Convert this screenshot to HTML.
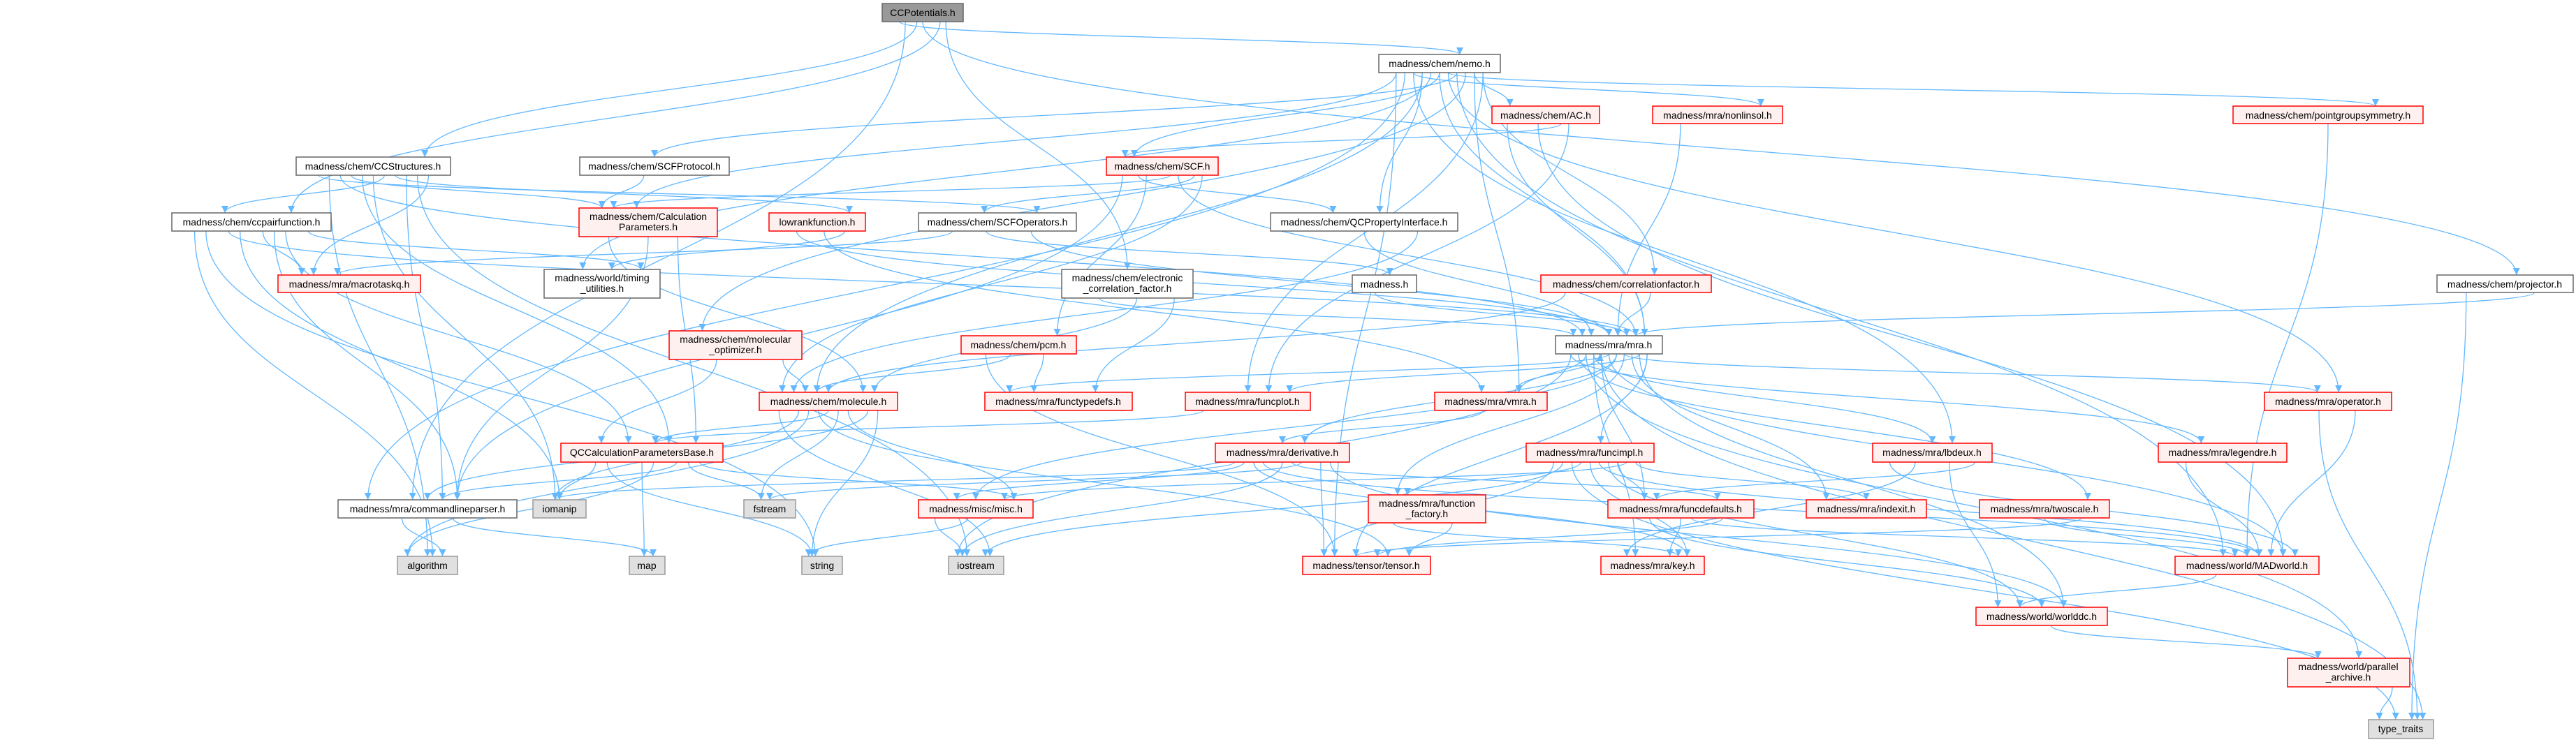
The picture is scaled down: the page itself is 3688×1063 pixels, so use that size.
<!DOCTYPE html>
<html><head><meta charset="utf-8"><style>
html,body{margin:0;padding:0;background:#fff}
svg{display:block}
text{font-family:"Liberation Sans","DejaVu Sans",sans-serif;font-size:14px;fill:#000}
.w{fill:#fff;stroke:#666;stroke-width:1.5}
.r{fill:#fff0f0;stroke:#f00;stroke-width:1.5}
.g{fill:#e0e0e0;stroke:#999;stroke-width:1.5}
.t{fill:#999;stroke:#666;stroke-width:1.5}
.e{fill:none;stroke:#63b8ff;stroke-width:1.3}
</style></head><body>
<svg id="s" width="3688" height="1063" viewBox="0 0 3688 1063" xmlns="http://www.w3.org/2000/svg">
<defs><marker id="a" viewBox="0 0 10 10" refX="10" refY="5" markerWidth="10" markerHeight="10" markerUnits="userSpaceOnUse" orient="auto"><path d="M0,0 L10,5 L0,10 z" fill="#63b8ff"/></marker></defs>
<g id="edges"></g>
<g id="nodes">
<rect class="t" x="1263" y="5" width="116" height="26"/><text x="1321" y="23" text-anchor="middle">CCPotentials.h</text>
<rect class="w" x="1974" y="78" width="174" height="26"/><text x="2061" y="96" text-anchor="middle">madness/chem/nemo.h</text>
<rect class="r" x="2136" y="152" width="154" height="25"/><text x="2213" y="170" text-anchor="middle">madness/chem/AC.h</text>
<rect class="r" x="2366" y="152" width="186" height="25"/><text x="2459" y="170" text-anchor="middle">madness/mra/nonlinsol.h</text>
<rect class="r" x="3197" y="152" width="272" height="25"/><text x="3333" y="170" text-anchor="middle">madness/chem/pointgroupsymmetry.h</text>
<rect class="w" x="424" y="225" width="221" height="26"/><text x="534" y="243" text-anchor="middle">madness/chem/CCStructures.h</text>
<rect class="w" x="830" y="225" width="214" height="26"/><text x="937" y="243" text-anchor="middle">madness/chem/SCFProtocol.h</text>
<rect class="r" x="1584" y="225" width="160" height="26"/><text x="1664" y="243" text-anchor="middle">madness/chem/SCF.h</text>
<rect class="w" x="246" y="305" width="228" height="26"/><text x="360" y="323" text-anchor="middle">madness/chem/ccpairfunction.h</text>
<rect class="r" x="829" y="298" width="198" height="41"/><text x="928" y="315" text-anchor="middle">madness/chem/Calculation</text><text x="928" y="330" text-anchor="middle">Parameters.h</text>
<rect class="r" x="1101" y="305" width="138" height="26"/><text x="1170" y="323" text-anchor="middle">lowrankfunction.h</text>
<rect class="w" x="1315" y="305" width="226" height="26"/><text x="1428" y="323" text-anchor="middle">madness/chem/SCFOperators.h</text>
<rect class="w" x="1819" y="305" width="268" height="26"/><text x="1953" y="323" text-anchor="middle">madness/chem/QCPropertyInterface.h</text>
<rect class="r" x="398" y="394" width="204" height="25"/><text x="500" y="412" text-anchor="middle">madness/mra/macrotaskq.h</text>
<rect class="w" x="779" y="386" width="166" height="41"/><text x="862" y="403" text-anchor="middle">madness/world/timing</text><text x="862" y="418" text-anchor="middle">_utilities.h</text>
<rect class="w" x="1520" y="386" width="188" height="41"/><text x="1614" y="403" text-anchor="middle">madness/chem/electronic</text><text x="1614" y="418" text-anchor="middle">_correlation_factor.h</text>
<rect class="w" x="1936" y="394" width="92" height="25"/><text x="1982" y="412" text-anchor="middle">madness.h</text>
<rect class="r" x="2206" y="394" width="244" height="25"/><text x="2328" y="412" text-anchor="middle">madness/chem/correlationfactor.h</text>
<rect class="w" x="3489" y="394" width="195" height="25"/><text x="3586" y="412" text-anchor="middle">madness/chem/projector.h</text>
<rect class="r" x="958" y="474" width="190" height="41"/><text x="1053" y="491" text-anchor="middle">madness/chem/molecular</text><text x="1053" y="506" text-anchor="middle">_optimizer.h</text>
<rect class="r" x="1376" y="481" width="165" height="26"/><text x="1458" y="499" text-anchor="middle">madness/chem/pcm.h</text>
<rect class="w" x="2227" y="481" width="153" height="26"/><text x="2303" y="499" text-anchor="middle">madness/mra/mra.h</text>
<rect class="r" x="1087" y="562" width="198" height="26"/><text x="1186" y="580" text-anchor="middle">madness/chem/molecule.h</text>
<rect class="r" x="1410" y="562" width="211" height="26"/><text x="1515" y="580" text-anchor="middle">madness/mra/functypedefs.h</text>
<rect class="r" x="1697" y="562" width="179" height="26"/><text x="1786" y="580" text-anchor="middle">madness/mra/funcplot.h</text>
<rect class="r" x="2054" y="562" width="161" height="26"/><text x="2134" y="580" text-anchor="middle">madness/mra/vmra.h</text>
<rect class="r" x="3242" y="562" width="182" height="26"/><text x="3333" y="580" text-anchor="middle">madness/mra/operator.h</text>
<rect class="r" x="803" y="635" width="232" height="27"/><text x="919" y="653" text-anchor="middle">QCCalculationParametersBase.h</text>
<rect class="r" x="1740" y="635" width="192" height="27"/><text x="1836" y="653" text-anchor="middle">madness/mra/derivative.h</text>
<rect class="r" x="2185" y="635" width="183" height="27"/><text x="2276" y="653" text-anchor="middle">madness/mra/funcimpl.h</text>
<rect class="r" x="2681" y="635" width="171" height="27"/><text x="2766" y="653" text-anchor="middle">madness/mra/lbdeux.h</text>
<rect class="r" x="3090" y="635" width="184" height="27"/><text x="3182" y="653" text-anchor="middle">madness/mra/legendre.h</text>
<rect class="w" x="484" y="716" width="256" height="26"/><text x="612" y="734" text-anchor="middle">madness/mra/commandlineparser.h</text>
<rect class="g" x="763" y="716" width="76" height="26"/><text x="801" y="734" text-anchor="middle">iomanip</text>
<rect class="g" x="1065" y="716" width="74" height="26"/><text x="1102" y="734" text-anchor="middle">fstream</text>
<rect class="r" x="1315" y="716" width="164" height="26"/><text x="1397" y="734" text-anchor="middle">madness/misc/misc.h</text>
<rect class="r" x="1959" y="709" width="168" height="40"/><text x="2043" y="726" text-anchor="middle">madness/mra/function</text><text x="2043" y="741" text-anchor="middle">_factory.h</text>
<rect class="r" x="2302" y="716" width="209" height="26"/><text x="2406" y="734" text-anchor="middle">madness/mra/funcdefaults.h</text>
<rect class="r" x="2586" y="716" width="172" height="26"/><text x="2672" y="734" text-anchor="middle">madness/mra/indexit.h</text>
<rect class="r" x="2834" y="716" width="186" height="26"/><text x="2927" y="734" text-anchor="middle">madness/mra/twoscale.h</text>
<rect class="g" x="569" y="797" width="86" height="26"/><text x="612" y="815" text-anchor="middle">algorithm</text>
<rect class="g" x="901" y="797" width="51" height="26"/><text x="926" y="815" text-anchor="middle">map</text>
<rect class="g" x="1148" y="797" width="58" height="26"/><text x="1177" y="815" text-anchor="middle">string</text>
<rect class="g" x="1358" y="797" width="79" height="26"/><text x="1397" y="815" text-anchor="middle">iostream</text>
<rect class="r" x="1865" y="797" width="183" height="26"/><text x="1956" y="815" text-anchor="middle">madness/tensor/tensor.h</text>
<rect class="r" x="2292" y="797" width="148" height="26"/><text x="2366" y="815" text-anchor="middle">madness/mra/key.h</text>
<rect class="r" x="3114" y="797" width="206" height="26"/><text x="3217" y="815" text-anchor="middle">madness/world/MADworld.h</text>
<rect class="r" x="2829" y="870" width="188" height="26"/><text x="2923" y="888" text-anchor="middle">madness/world/worlddc.h</text>
<rect class="r" x="3275" y="943" width="175" height="41"/><text x="3362" y="960" text-anchor="middle">madness/world/parallel</text><text x="3362" y="975" text-anchor="middle">_archive.h</text>
<rect class="g" x="3391" y="1031" width="93" height="27"/><text x="3437" y="1049" text-anchor="middle">type_traits</text>
</g>
</svg>
<script>
var N={ccp:[1263,5,1379,31],nemo:[1974,78,2148,104],ac:[2136,152,2290,177],nonlin:[2366,152,2552,177],pgs:[3197,152,3469,177],
ccs:[424,225,645,251],scfp:[830,225,1044,251],scf:[1584,225,1744,251],ccpf:[246,305,474,331],calc:[829,298,1027,339],lowr:[1101,305,1239,331],
scfo:[1315,305,1541,331],qcpi:[1819,305,2087,331],mtq:[398,394,602,419],tim:[779,386,945,427],ecf:[1520,386,1708,427],madh:[1936,394,2028,419],
corr:[2206,394,2450,419],proj:[3489,394,3684,419],molo:[958,474,1148,515],pcm:[1376,481,1541,507],mra:[2227,481,2380,507],mol:[1087,562,1285,588],
ftd:[1410,562,1621,588],fplot:[1697,562,1876,588],vmra:[2054,562,2215,588],op:[3242,562,3424,588],qcb:[803,635,1035,662],der:[1740,635,1932,662],
fimpl:[2185,635,2368,662],lbd:[2681,635,2852,662],leg:[3090,635,3274,662],clp:[484,716,740,742],iom:[763,716,839,742],fst:[1065,716,1139,742],
misc:[1315,716,1479,742],ff:[1959,709,2127,749],fdef:[2302,716,2511,742],idx:[2586,716,2758,742],two:[2834,716,3020,742],alg:[569,797,655,823],
map:[901,797,952,823],str:[1148,797,1206,823],ios:[1358,797,1437,823],ten:[1865,797,2048,823],key:[2292,797,2440,823],madw:[3114,797,3320,823],
wdc:[2829,870,3017,896],par:[3275,943,3450,984],tt:[3391,1031,3484,1058]};
var E={ccp:"ccs ccpf nemo proj ecf clp",
ccs:"ccpf mtq calc lowr scfo qcb clp alg iom ios mra",
ccpf:"mtq tim mra clp alg iom qcb str",
nemo:"scf ac nonlin pgs corr qcpi scfp calc tim molo clp mra vmra lbd op fplot mol madw ten",
scfp:"calc",calc:"qcb mol clp",lowr:"tim mra vmra",molo:"mol qcb",
ac:"scf mra madw fplot",nonlin:"mra",pgs:"madw",
scf:"scfo qcpi calc mol pcm mra clp",scfo:"madh mra mtq",qcpi:"mra mol",
ecf:"mra mol ftd",madh:"mra",corr:"mra mol",pcm:"mol ftd ten",
mra:"ftd fplot vmra der fimpl lbd op leg fdef idx two madw wdc par misc ten key ff ios tt",
proj:"mra tt",mol:"qcb clp iom fst str alg misc ios ten",
qcb:"clp iom map fst str alg misc",clp:"alg map",fplot:"qcb",vmra:"der mra",
der:"misc ios ten key fdef wdc madw fst iom",
fimpl:"ff fdef ten key misc ios madw idx tt wdc",misc:"ios str",ff:"ten key",
fdef:"key ten wdc madw",lbd:"fdef key wdc madw",op:"tt madw",leg:"madw",two:"madw ten",
madw:"wdc",wdc:"par",par:"tt"};
var g=document.getElementById("edges"),h="",k=0;
for(var s in E){E[s].split(" ").forEach(function(t){
 var a=N[s],b=N[t];k++;
 var j1=((k*37)%11-5)*((a[2]-a[0])/14), j2=((k*53)%9-4)*((b[2]-b[0])/12);
 var sx=(a[0]+a[2])/2+j1, tx=(b[0]+b[2])/2+j2, d;
 if(b[1]>a[3]+4){
  var sy=a[3],ty=b[1],m=(ty-sy)/2;
  d="M"+sx+","+sy+" C"+sx+","+(sy+m)+" "+tx+","+(ty-m)+" "+tx+","+ty;
 } else {
  var sy2=(a[1]+a[3])/2, ty2=b[3];
  if(b[1]<a[1]){ d="M"+sx+","+a[1]+" C"+sx+","+(a[1]-30)+" "+tx+","+(ty2+30)+" "+tx+","+ty2; }
  else { var right=b[0]>a[2]; var x1=right?a[2]:a[0], x2=right?b[0]:b[2];
   d="M"+x1+","+sy2+" C"+((x1+x2)/2)+","+sy2+" "+((x1+x2)/2)+","+((b[1]+b[3])/2)+" "+x2+","+((b[1]+b[3])/2); }
 }
 h+='<path class="e" d="'+d+'" marker-end="url(#a)"/>';
});}
g.innerHTML=h;
</script>
</body></html>
